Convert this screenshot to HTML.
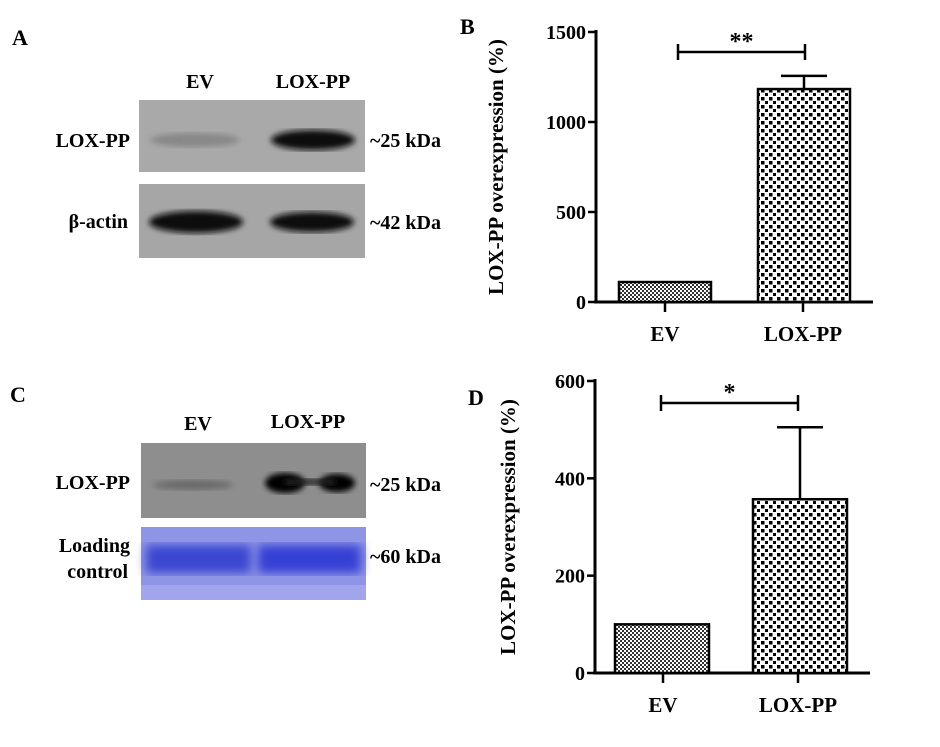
<!DOCTYPE html>
<html><head><meta charset="utf-8"><style>
body{margin:0;background:#fff;}
svg, svg text{font-family:"Liberation Serif","DejaVu Serif","Times New Roman",serif !important;font-weight:bold;}
</style></head><body>
<svg width="940" height="742" viewBox="0 0 940 742" font-family="Liberation Serif, serif">
<defs>
<pattern id="fine" width="4" height="4" patternUnits="userSpaceOnUse"><rect width="4" height="4" fill="#fff"/><rect width="2" height="2" fill="#333"/><rect x="2" y="2" width="2" height="2" fill="#333"/></pattern>
<pattern id="coarse" width="8" height="8" patternUnits="userSpaceOnUse"><rect width="8" height="8" fill="#fff"/><rect x="1" y="1" width="3.5" height="3.5" fill="#000"/><rect x="5" y="5" width="3" height="3" fill="#000"/></pattern>
<filter id="blur"><feGaussianBlur stdDeviation="3"/></filter>
<filter id="blur2"><feGaussianBlur stdDeviation="5"/></filter>
</defs>
<!-- Panel A -->
<text x="12" y="45" font-size="22">A</text>
<text x="200" y="88" font-size="20" text-anchor="middle">EV</text>
<text x="313" y="88" font-size="20" text-anchor="middle">LOX-PP</text>
<g>
<rect x="139" y="100" width="226" height="72" fill="#a9a9a9"/>
<ellipse cx="195" cy="140" rx="45" ry="7" fill="#888" filter="url(#blur)"/>
<ellipse cx="313" cy="140" rx="42" ry="10" fill="#111" filter="url(#blur)"/>
</g>
<g>
<rect x="139" y="184" width="226" height="74" fill="#a6a6a6"/>
<ellipse cx="196" cy="222" rx="47" ry="11" fill="#0a0a0a" filter="url(#blur)"/>
<ellipse cx="312" cy="222" rx="42" ry="10" fill="#111" filter="url(#blur)"/>
</g>
<text x="130" y="147" font-size="20" text-anchor="end">LOX-PP</text>
<text x="128" y="228" font-size="20" text-anchor="end">β-actin</text>
<text x="370" y="147" font-size="20">~25 kDa</text>
<text x="370" y="229" font-size="20">~42 kDa</text>
<!-- Panel C -->
<text x="10" y="402" font-size="22">C</text>
<text x="198" y="430" font-size="20" text-anchor="middle">EV</text>
<text x="308" y="428" font-size="20" text-anchor="middle">LOX-PP</text>
<g>
<rect x="141" y="443" width="225" height="75" fill="#8e8e8e"/>
<ellipse cx="193" cy="485" rx="40" ry="5" fill="#6a6a6a" filter="url(#blur)"/>
<ellipse cx="285" cy="483" rx="20" ry="10" fill="#000" filter="url(#blur)"/>
<ellipse cx="337" cy="483" rx="18" ry="9" fill="#000" filter="url(#blur)"/>
<rect x="285" y="479" width="50" height="6" fill="#222" filter="url(#blur)"/>
</g>
<g>
<rect x="141" y="527" width="225" height="73" fill="#8f95e6"/>
<rect x="146" y="545" width="105" height="28" fill="#3a46d0" filter="url(#blur2)"/>
<rect x="258" y="545" width="103" height="28" fill="#3441d4" filter="url(#blur2)"/>
<rect x="141" y="585" width="225" height="15" fill="#a8acee" opacity="0.7"/>
</g>
<text x="130" y="489" font-size="20" text-anchor="end">LOX-PP</text>
<text x="130" y="552" font-size="20" text-anchor="end">Loading</text>
<text x="128" y="578" font-size="20" text-anchor="end">control</text>
<text x="370" y="491" font-size="20">~25 kDa</text>
<text x="370" y="563" font-size="20">~60 kDa</text>
<text x="460" y="34" font-size="22">B</text>
<text x="468" y="405" font-size="22">D</text>
<g id="chartB"></g>
<g id="chartD"></g>
</svg>
<script>
const categories=["EV","LOX-PP"];
const valuesB=[111,1183];
const errorsB=[0,73];
const ticksB=[0,500,1000,1500];
const valuesD=[100,357];
const errorsD=[0,148];
const ticksD=[0,200,400,600];
const sigB="**";
const sigD="*";
const NS="http://www.w3.org/2000/svg";
function mk(p,t,a){const e=document.createElementNS(NS,t);for(const k in a)e.setAttribute(k,a[k]);p.appendChild(e);return e;}
function draw(g,cfg){
  const y=v=>cfg.y0-(v-cfg.min)/(cfg.max-cfg.min)*(cfg.y0-cfg.yTop);
  const ax=mk(g,'line',{x1:cfg.ax,y1:cfg.yTop-2,x2:cfg.ax,y2:cfg.y0,stroke:'#000','stroke-width':3});
  
  
  const xa=mk(g,'line',{x1:cfg.ax-2,y1:cfg.y0,x2:cfg.xEnd,y2:cfg.y0,stroke:'#000','stroke-width':3});
  
  
  cfg.ticks.forEach(t=>{
    const l=mk(g,'line',{x1:cfg.ax-8,y1:y(t),x2:cfg.ax,y2:y(t),stroke:'#000','stroke-width':2.5});
    
    
    const tx=mk(g,'text',{x:cfg.ax-10,y:y(t)+7,'font-size':20,'text-anchor':'end'});
    tx.textContent=t;
    
    
  });
  const lab=mk(g,'text',{x:0,y:0,'font-size':21,'text-anchor':'middle',transform:`translate(${cfg.labX},${(cfg.y0+cfg.yTop)/2}) rotate(-90)`});
  lab.textContent='LOX-PP overexpression (%)';
  
  
  categories.forEach((c,i)=>{
    const x0=cfg.barX[i], w=cfg.barW, cx=x0+w/2;
    const top=y(cfg.vals[i]);
    if(cfg.errs[i]>0){
      const et=y(cfg.vals[i]+cfg.errs[i]);
      const e1=mk(g,'line',{x1:cx,y1:top,x2:cx,y2:et,stroke:'#000','stroke-width':2.5});
      
      
      const e2=mk(g,'line',{x1:cx-23,y1:et,x2:cx+23,y2:et,stroke:'#000','stroke-width':2.5});
      
      
    }
    const r=mk(g,'rect',{x:x0,y:top,width:w,height:cfg.y0-top,fill:i?'url(#coarse)':'url(#fine)',stroke:'#000','stroke-width':2.5});
    
    
    const tk=mk(g,'line',{x1:cfg.tickX[i],y1:cfg.y0,x2:cfg.tickX[i],y2:cfg.y0+10,stroke:'#000','stroke-width':2.5});
    
    
    const t=mk(g,'text',{x:cfg.tickX[i],y:cfg.y0+39,'font-size':21,'text-anchor':'middle'});
    t.textContent=c;
    
    
  });
  const sy=cfg.sigY, xa1=cfg.tickX[0]+cfg.sigOff[0], xa2=cfg.tickX[1]+cfg.sigOff[1];
  const s=mk(g,'path',{d:`M${xa1},${sy-8}V${sy+8}M${xa1},${sy}H${xa2}M${xa2},${sy-8}V${sy+8}`,stroke:'#000','stroke-width':2.5,fill:'none'});
  
  
  const st=mk(g,'text',{x:(xa1+xa2)/2,y:sy-3,'font-size':24,'text-anchor':'middle'});
  st.textContent=cfg.sig;
  
  
}
draw(document.getElementById('chartB'),{vals:valuesB,errs:errorsB,ticks:ticksB,min:0,max:1500,y0:302,yTop:32,ax:596,xEnd:873,barX:[619,758],barW:92,tickX:[665,803],labX:503,sigY:52,sigOff:[13,2],sig:sigB});
draw(document.getElementById('chartD'),{vals:valuesD,errs:errorsD,ticks:ticksD,min:0,max:600,y0:673,yTop:381,ax:595,xEnd:870,barX:[615,753],barW:94,tickX:[663,798],labX:515,sigY:403,sigOff:[-2,0],sig:sigD});
</script>
</body></html>
